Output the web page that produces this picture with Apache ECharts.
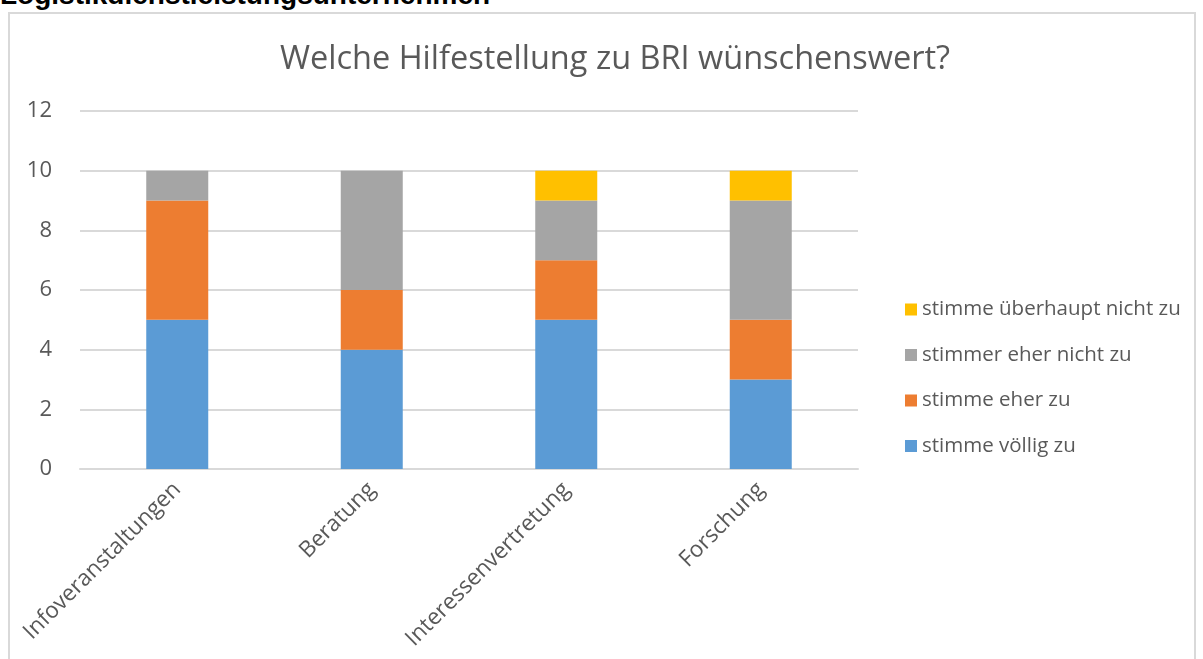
<!DOCTYPE html>
<html>
<head>
<meta charset="utf-8">
<script src="https://cdn.jsdelivr.net/npm/echarts@6/dist/echarts.min.js"></script>
<style>
  html, body { margin: 0; padding: 0; background: #fff; overflow: hidden; }
  .head {
    position: absolute; left: 0px; top: -21px;
    font: bold 28px "Liberation Sans", Arial, sans-serif; color: #000;
    white-space: nowrap;
  }
  .frame {
    position: absolute; left: 8px; top: 12px; width: 1188px; height: 700px;
    border: 2px solid #d9d9d9; box-sizing: border-box;
  }
  #chart { position: absolute; left: 0; top: 0; width: 1203px; height: 659px; }
</style>
</head>
<body>
<div class="head">Logistikdienstleistungsunternehmen</div>
<div class="frame"></div>
<div id="chart"></div>
<script>
// Kategorien und Antworten
const categories = ['Infoveranstaltungen', 'Beratung', 'Interessenvertretung', 'Forschung'];
const voelligZu = [5, 4, 5, 3];
const eherZu = [4, 2, 2, 2];
const eherNichtZu = [1, 4, 2, 4];
const ueberhauptNicht = [0, 0, 1, 1];
const yTicks = [0, 2, 4, 6, 8, 10, 12];

const chart = echarts.init(document.getElementById('chart'));
const font = '"Open Sans", Lato, sans-serif';

function bar(name, data, color) {
  return {
    name: name,
    type: 'bar',
    stack: 'total',
    data: data,
    barWidth: 62,
    itemStyle: { color: color },
    emphasis: { disabled: true }
  };
}

chart.setOption({
  animation: false,
  title: {
    text: 'Welche Hilfestellung zu BRI wünschenswert?',
    left: 275,
    top: 38,
    textStyle: { fontFamily: font, fontSize: 32.5, fontWeight: 'normal', color: '#595959' }
  },
  legend: {
    orient: 'vertical',
    left: 900,
    top: 294,
    itemWidth: 12,
    itemHeight: 12,
    itemGap: 24.5,
    icon: 'rect',
    data: ['stimme überhaupt nicht zu', 'stimmer eher nicht zu', 'stimme eher zu', 'stimme völlig zu'],
    textStyle: { fontFamily: font, fontSize: 20.5, color: '#595959' }
  },
  grid: { left: 80, right: 345, top: 111, bottom: 190 },
  xAxis: {
    type: 'category',
    data: categories,
    axisLine: { lineStyle: { color: '#d9d9d9', width: 2 } },
    axisTick: { show: false },
    axisLabel: { rotate: 45, margin: 17, fontFamily: font, fontSize: 22.5, color: '#595959' }
  },
  yAxis: {
    type: 'value',
    min: yTicks[0],
    max: yTicks[yTicks.length - 1],
    interval: 2,
    axisLine: { show: false },
    axisTick: { show: false },
    splitLine: { lineStyle: { color: '#d9d9d9', width: 2 } },
    axisLabel: { margin: 28, fontFamily: font, fontSize: 22, color: '#595959' }
  },
  series: [
    bar('stimme völlig zu', voelligZu, '#5B9BD5'),
    bar('stimme eher zu', eherZu, '#ED7D31'),
    bar('stimmer eher nicht zu', eherNichtZu, '#A5A5A5'),
    bar('stimme überhaupt nicht zu', ueberhauptNicht, '#FFC000')
  ]
});
</script>
</body>
</html>
